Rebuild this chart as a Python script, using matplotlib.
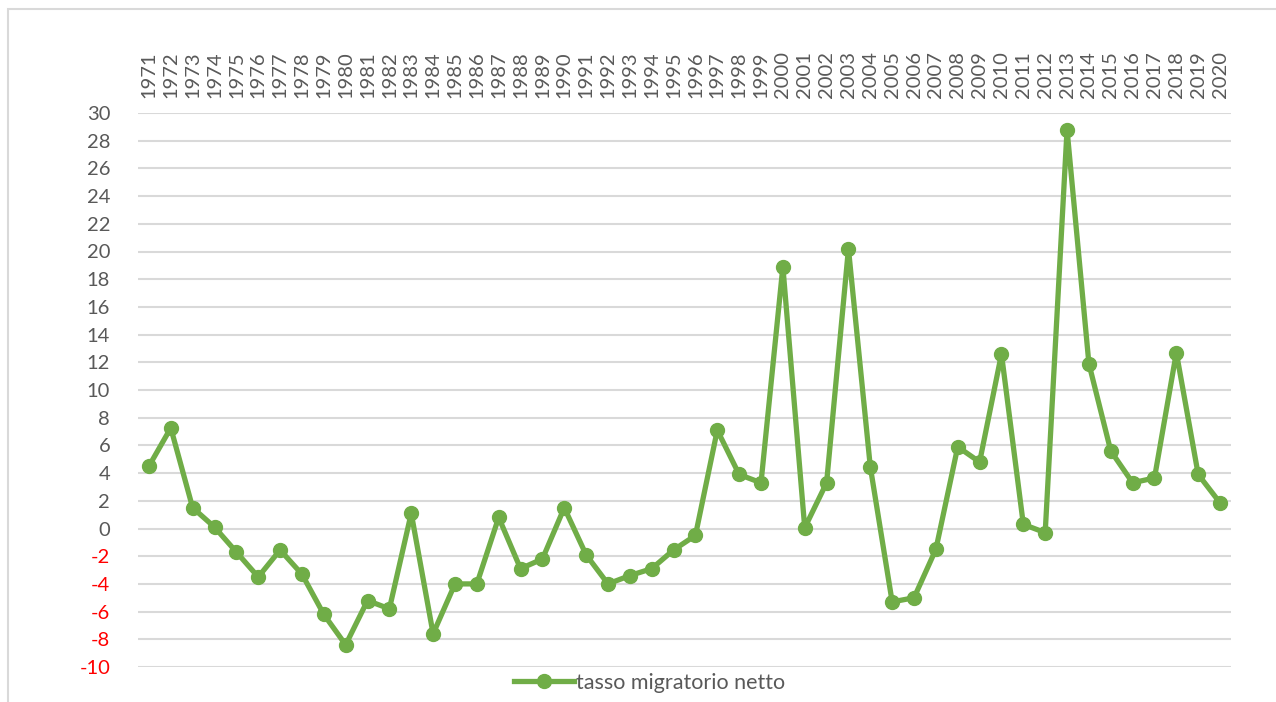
import matplotlib.pyplot as plt
from matplotlib.patches import Rectangle

# Data
years = list(range(1971, 2021))
tasso = [4.5, 7.26, 1.5, 0.1, -1.7, -3.5, -1.55, -3.3, -6.2, -8.4,
         -5.2, -5.8, 1.1, -7.6, -4.0, -4.0, 0.8, -2.9, -2.2, 1.5,
         -1.9, -4.0, -3.4, -2.9, -1.55, -0.5, 7.1, 3.9, 3.3, 18.9,
         0.05, 3.3, 20.2, 4.45, -5.3, -5.0, -1.5, 5.9, 4.8, 12.6,
         0.3, -0.3, 28.8, 11.9, 5.6, 3.3, 3.65, 12.7, 3.9, 1.85]
y_ticks = list(range(-10, 31, 2))

green = '#70AD47'
grey = '#595959'

plt.rcParams['font.family'] = ['Lato', 'DejaVu Sans']

fig = plt.figure(figsize=(12.76, 7.02), dpi=100)
ax = fig.add_axes([138 / 1276, 1 - 667 / 702, (1231 - 138) / 1276, (667 - 113) / 702])

x = list(range(len(years)))
ax.plot(x, tasso, '-o', color=green, lw=3.8, ms=10, label='tasso migratorio netto',
        zorder=3)

ax.set_xlim(-0.5, len(years) - 0.5)
ax.set_ylim(-10, 30)
ax.set_yticks(y_ticks)
ax.set_yticklabels([str(v) for v in y_ticks])
for lab, v in zip(ax.get_yticklabels(), y_ticks):
    lab.set_color('#FF0000' if v < 0 else grey)

ax.xaxis.tick_top()
ax.set_xticks(x)
ax.set_xticklabels([str(y) for y in years], rotation=90, color=grey)
ax.tick_params(axis='both', length=0, labelsize=14.5)
ax.tick_params(axis='x', pad=11)
ax.tick_params(axis='y', pad=20)

ax.grid(axis='y', color='#D9D9D9', lw=1.5)
ax.set_axisbelow(True)
for s in ax.spines.values():
    s.set_visible(False)

# chart border (top and left edges visible)
fig.patches.append(Rectangle((8 / 1276, -0.1), 1.2, 1 - 9 / 702 + 0.1,
                             transform=fig.transFigure, fill=False,
                             edgecolor='#D9D9D9', lw=1.5))

fig.legend(loc='center left', bbox_to_anchor=(503 / 1276, 1 - 683 / 702),
           frameon=False, fontsize=15.5, handlelength=2.8, handletextpad=0.1,
           labelcolor=grey, borderpad=0)

fig.savefig('out.png', dpi=100)
